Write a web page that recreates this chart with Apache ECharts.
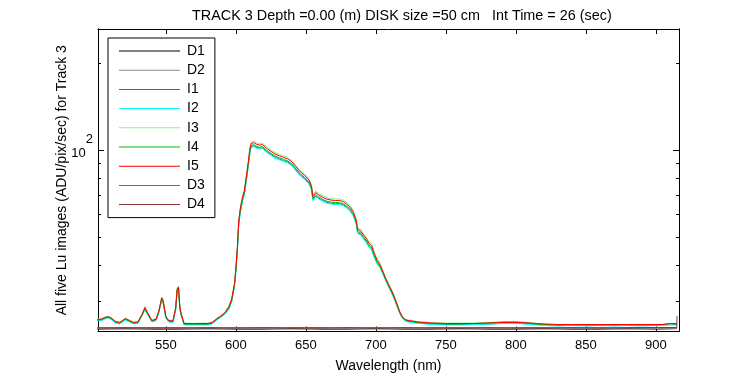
<!DOCTYPE html>
<html lang="en">
<head>
<meta charset="UTF-8">
<title>Track 3</title>
<script src="https://cdn.jsdelivr.net/npm/echarts@6/dist/echarts.min.js"></script>
<style>
  html, body { margin: 0; padding: 0; background: #fff; }
  #chart { width: 750px; height: 375px; }
</style>
</head>
<body>
<div id="chart"></div>
<script>
// wavelength grid (nm) for the five Lu images
var wave = [501, 504, 507, 509, 511, 514, 517, 519, 521, 524, 527, 530, 533, 535, 537, 540, 543, 545, 547, 548,
  550, 552, 555, 557, 558, 559, 560, 561, 563, 566, 570, 575, 580, 583, 586, 589, 592, 595, 597, 599,
  600, 601, 602, 603, 604, 605, 606, 607, 608, 609, 610, 611, 613, 615, 617, 619, 622, 625, 628, 631,
  634, 637, 640, 643, 646, 649, 652, 654, 655, 656, 657, 659, 662, 665, 668, 671, 674, 677, 680, 682,
  684, 686, 687, 689, 691, 693, 695, 697, 699, 701, 703, 705, 707, 709, 711, 713, 715, 717, 719, 721,
  723, 726, 730, 735, 740, 750, 760, 770, 780, 790, 795, 800, 805, 810, 815, 820, 830, 840, 850, 860,
  870, 880, 890, 900, 905, 910, 915];

var I1 = [25.7, 25.8, 26.2, 26.3, 26.0, 25.3, 25.1, 25.5, 25.9, 25.5, 25.1, 25.2, 26.8, 28.1, 27.0, 25.5, 25.8, 27.5, 30.3, 29.7,
  26.3, 25.5, 25.4, 28.1, 32.5, 33.1, 28.1, 26.8, 24.9, 24.9, 24.9, 24.9, 24.9, 25.1, 25.8, 26.4, 27.1, 28.3, 30.0, 34.0,
  38.4, 44.7, 55.1, 60.5, 64.4, 67.8, 70.2, 76.1, 82.4, 89.7, 98.5, 102.9, 103.4, 101.9, 101.4, 101.9, 98.8, 96.5, 94.4, 93.1,
  91.9, 90.9, 88.7, 85.2, 81.9, 79.8, 77.0, 73.1, 67.3, 66.6, 69.4, 68.3, 66.9, 65.9, 65.4, 65.2, 65.2, 64.5, 62.9, 61.4,
  59.3, 55.6, 51.7, 51.3, 49.6, 48.3, 46.4, 45.4, 42.5, 40.5, 39.4, 37.4, 35.5, 33.8, 32.3, 30.7, 29.0, 27.3, 26.2, 25.7,
  25.5, 25.4, 25.2, 25.1, 25.0, 24.9, 24.9, 24.9, 25.0, 25.1, 25.1, 25.1, 25.1, 25.0, 24.9, 24.8, 24.7, 24.7, 24.7, 24.7,
  24.7, 24.7, 24.7, 24.8, 24.8, 24.9, 24.9];
var I2 = [25.6, 25.7, 26.1, 26.2, 25.9, 25.2, 25.0, 25.4, 25.8, 25.4, 25.0, 25.1, 26.7, 27.9, 27.0, 25.4, 25.7, 27.5, 30.2, 29.6,
  26.2, 25.4, 25.3, 27.9, 32.3, 32.9, 27.9, 26.7, 24.8, 24.8, 24.8, 24.8, 24.8, 25.0, 25.7, 26.3, 27.0, 28.1, 29.9, 33.8,
  38.2, 44.3, 54.7, 60.0, 63.9, 67.3, 69.7, 75.5, 81.8, 89.1, 97.8, 102.1, 102.6, 101.2, 100.7, 101.2, 98.1, 95.8, 93.7, 92.4,
  91.3, 90.2, 88.1, 84.6, 81.3, 79.2, 76.5, 72.6, 66.8, 66.1, 68.9, 67.8, 66.4, 65.4, 65.0, 64.8, 64.8, 64.1, 62.4, 61.0,
  58.9, 55.2, 51.3, 50.9, 49.3, 47.9, 46.1, 45.1, 42.2, 40.2, 39.2, 37.2, 35.3, 33.6, 32.1, 30.6, 28.8, 27.2, 26.1, 25.6,
  25.4, 25.3, 25.1, 25.0, 24.9, 24.8, 24.8, 24.9, 25.0, 25.1, 25.1, 25.1, 25.0, 24.9, 24.8, 24.7, 24.6, 24.7, 24.6, 24.7,
  24.6, 24.7, 24.6, 24.7, 24.7, 24.8, 24.8];
var I3 = [26.0, 26.1, 26.5, 26.6, 26.3, 25.6, 25.4, 25.8, 26.2, 25.8, 25.4, 25.5, 27.1, 28.7, 27.4, 25.8, 26.1, 27.9, 31.0, 30.4,
  26.6, 25.8, 25.7, 28.6, 33.2, 33.8, 28.6, 27.1, 25.2, 25.2, 25.1, 25.2, 25.2, 25.4, 26.1, 26.7, 27.4, 28.9, 30.7, 34.7,
  39.2, 46.3, 57.2, 62.7, 66.8, 70.3, 72.9, 78.9, 85.5, 93.1, 102.2, 106.8, 107.3, 105.8, 105.2, 105.7, 102.5, 100.2, 98.0, 96.6,
  95.4, 94.3, 92.1, 88.4, 85.0, 82.8, 79.9, 75.9, 69.8, 69.1, 72.1, 70.8, 69.4, 68.4, 67.9, 67.7, 67.7, 67.0, 65.3, 63.8,
  61.5, 57.7, 53.6, 53.2, 51.5, 50.1, 48.2, 47.2, 44.1, 42.0, 40.5, 38.2, 36.2, 34.5, 33.0, 31.4, 29.6, 27.7, 26.5, 26.0,
  25.8, 25.7, 25.5, 25.4, 25.3, 25.2, 25.2, 25.2, 25.3, 25.4, 25.5, 25.5, 25.4, 25.3, 25.1, 25.0, 24.9, 24.8, 24.8, 24.9,
  24.9, 24.8, 24.8, 24.9, 24.9, 25.0, 25.1];
var I4 = [25.8, 25.9, 26.3, 26.4, 26.1, 25.4, 25.2, 25.6, 26.0, 25.6, 25.2, 25.3, 26.9, 28.3, 27.1, 25.6, 25.9, 27.6, 30.5, 29.9,
  26.4, 25.6, 25.5, 28.3, 32.7, 33.3, 28.3, 26.9, 25.0, 25.0, 25.0, 25.0, 25.0, 25.2, 25.9, 26.5, 27.2, 28.4, 30.2, 34.2,
  38.6, 45.1, 55.6, 61.0, 64.9, 68.4, 70.8, 76.8, 83.1, 90.5, 99.4, 103.8, 104.3, 102.8, 102.3, 102.8, 99.7, 97.4, 95.3, 94.0,
  92.8, 91.7, 89.5, 86.0, 82.7, 80.5, 77.7, 73.8, 67.9, 67.2, 70.1, 68.9, 67.5, 66.5, 66.0, 65.8, 65.8, 65.1, 63.5, 62.0,
  59.8, 56.1, 52.2, 51.8, 50.1, 48.7, 46.8, 45.9, 42.9, 40.8, 39.4, 37.6, 35.6, 34.0, 32.5, 30.9, 29.1, 27.4, 26.3, 25.8,
  25.6, 25.5, 25.3, 25.2, 25.1, 25.0, 25.0, 25.1, 25.2, 25.4, 25.4, 25.4, 25.3, 25.1, 25.0, 24.9, 24.8, 24.8, 24.8, 24.8,
  24.9, 24.8, 24.8, 24.8, 24.9, 25.1, 25.0];
var I5 = [25.9, 26.0, 26.4, 26.5, 26.2, 25.5, 25.3, 25.7, 26.1, 25.7, 25.3, 25.4, 27.0, 28.5, 27.3, 25.7, 26.0, 27.8, 30.8, 30.2,
  26.5, 25.7, 25.6, 28.5, 33.0, 33.6, 28.5, 27.0, 25.1, 25.1, 25.1, 25.1, 25.1, 25.3, 26.0, 26.6, 27.3, 28.7, 30.5, 34.5,
  39.0, 45.8, 56.5, 62.0, 66.0, 69.5, 72.0, 78.0, 84.5, 92.0, 101.0, 105.5, 106.0, 104.5, 104.0, 104.5, 101.3, 99.0, 96.8, 95.5,
  94.3, 93.2, 91.0, 87.4, 84.0, 81.8, 79.0, 75.0, 69.0, 68.3, 71.2, 70.0, 68.6, 67.6, 67.1, 66.9, 66.9, 66.2, 64.5, 63.0,
  60.8, 57.0, 53.0, 52.6, 50.9, 49.5, 47.6, 46.6, 43.6, 41.5, 40.0, 38.0, 36.0, 34.3, 32.8, 31.2, 29.4, 27.6, 26.4, 25.9,
  25.7, 25.6, 25.4, 25.3, 25.2, 25.1, 25.1, 25.1, 25.2, 25.3, 25.3, 25.3, 25.3, 25.2, 25.1, 25.0, 24.9, 24.9, 24.9, 24.9,
  24.9, 24.9, 24.9, 24.9, 24.9, 25.1, 25.1];

// dark frames
var dWave = [501, 520, 540, 560, 580, 600, 620, 640, 660, 680, 700, 720, 740, 760, 780, 800, 820, 840, 860, 880, 900, 914.9, 915.1];
var D1 = [24.0, 24.1, 24.0, 24.0, 24.1, 24.0, 24.0, 24.1, 24.0, 24.0, 24.1, 24.0, 24.0, 24.1, 24.0, 24.0, 24.1, 24.0, 24.0, 24.1, 24.0, 24.1, 24.1];
var D2 = [24.1, 24.0, 24.1, 24.1, 24.0, 24.1, 24.1, 24.0, 24.1, 24.1, 24.0, 24.1, 24.1, 24.0, 24.1, 24.1, 24.0, 24.1, 24.1, 24.0, 24.1, 24.1, 24.1];
var D3 = [24.3, 24.2, 24.3, 24.3, 24.2, 24.3, 24.2, 24.3, 24.3, 24.2, 24.3, 24.2, 24.3, 24.3, 24.2, 24.3, 24.3, 24.2, 24.3, 24.2, 24.3, 24.3, 24.3];
var D4 = [24.2, 24.3, 24.2, 24.2, 24.3, 24.2, 24.3, 24.2, 24.2, 24.3, 24.2, 24.3, 24.2, 24.2, 24.3, 24.2, 24.2, 24.3, 24.2, 24.3, 24.3, 24.3, 26.6];

var xTicks = [550, 600, 650, 700, 750, 800, 850, 900];
var yMajor = [100];
var yMinor = [30, 40, 50, 60, 70, 80, 90, 200];

var names = ['D1', 'D2', 'I1', 'I2', 'I3', 'I4', 'I5', 'D3', 'D4'];
var colors = ['#000000', '#8c8c8c', '#1f6fd6', '#00ffff', '#90ee90', '#00c000', '#ff0000', '#8c5a5a', '#8b3434'];

var FONT = 'Liberation Sans, Arial, Helvetica, sans-serif';
var YMIN = 23.55, YMAX = 262.3;

var chart = echarts.init(document.getElementById('chart'));

function pairs(xs, ys) {
  var out = [];
  for (var i = 0; i < xs.length; i++) out.push([xs[i], ys[i]]);
  return out;
}

var seriesData = {
  D1: pairs(dWave, D1), D2: pairs(dWave, D2),
  I1: pairs(wave, I1), I2: pairs(wave, I2), I3: pairs(wave, I3), I4: pairs(wave, I4), I5: pairs(wave, I5),
  D3: pairs(dWave, D3), D4: pairs(dWave, D4)
};

var series = names.map(function (n, i) {
  return {
    name: n,
    type: 'line',
    data: seriesData[n],
    showSymbol: false,
    symbol: 'none',
    lineStyle: { width: 1, color: colors[i] },
    itemStyle: { color: colors[i] },
    emphasis: { disabled: true },
    animation: false
  };
});

function logAxis(pos, ticks, len, label) {
  return {
    type: 'log',
    logBase: 10,
    min: YMIN,
    max: YMAX,
    position: pos,
    offset: 0,
    axisLine: { show: true, lineStyle: { color: '#000', width: 1 } },
    axisTick: { show: true, inside: true, length: len, customValues: ticks, lineStyle: { color: '#000' } },
    axisLabel: label ? {
      show: true,
      customValues: yMajor,
      margin: 5,
      padding: [0, 0, 8, 0],
      formatter: function (v) { return Math.abs(v - 100) < 1e-6 ? '{b|10}{s|2}' : ''; },
      rich: {
        b: { fontSize: 13, fontFamily: FONT, color: '#000', lineHeight: 28, verticalAlign: 'bottom' },
        s: { fontSize: 13, fontFamily: FONT, color: '#000', lineHeight: 15, verticalAlign: 'top', padding: [1, 0, 0, 0] }
      }
    } : { show: false },
    splitLine: { show: false },
    minorTick: { show: false }
  };
}

var yAxes = [logAxis('left', yMajor, 6, true), logAxis('left', yMinor, 3, false),
  logAxis('right', yMajor, 6, false), logAxis('right', yMinor, 3, false)];
yAxes[0].name = 'All five Lu images (ADU/pix/sec) for Track 3';
yAxes[0].nameLocation = 'middle';
yAxes[0].nameGap = 29;
yAxes[0].nameMoveOverlap = false;
yAxes[0].nameTextStyle = { fontSize: 14, fontFamily: FONT, color: '#000' };

chart.setOption({
  animation: false,
  backgroundColor: '#fff',
  title: {
    text: 'TRACK 3 Depth =0.00 (m) DISK size =50 cm   Int Time = 26 (sec)',
    left: 187,
    top: 4,
    textStyle: { fontSize: 14.4, fontWeight: 'normal', fontFamily: FONT, color: '#000' }
  },
  legend: {
    orient: 'vertical',
    left: 108,
    top: 38,
    padding: [6, 10, 6, 11],
    itemWidth: 61,
    itemHeight: 1,
    itemGap: 5.2,
    icon: 'rect',
    borderColor: '#000',
    borderWidth: 1,
    backgroundColor: '#fff',
    borderRadius: 0,
    textStyle: { fontSize: 14, fontFamily: FONT, color: '#000', lineHeight: 14, padding: [0, 0, 0, 2] },
    data: names
  },
  grid: { left: 98, right: 71, top: 29, bottom: 43.5, containLabel: false, outerBoundsMode: 'none' },
  xAxis: [{
    type: 'value',
    min: 501.5,
    max: 916.5,
    position: 'bottom',
    name: 'Wavelength (nm)',
    nameLocation: 'middle',
    nameGap: 27.5,
    nameMoveOverlap: false,
    nameTextStyle: { fontSize: 14, fontFamily: FONT, color: '#000' },
    axisLine: { show: true, onZero: false, lineStyle: { color: '#000' } },
    axisTick: { show: true, inside: true, length: 5, customValues: xTicks, lineStyle: { color: '#000' } },
    axisLabel: { show: true, customValues: xTicks, margin: 7, fontSize: 13, fontFamily: FONT, color: '#000' },
    splitLine: { show: false }
  }, {
    type: 'value',
    min: 501.5,
    max: 916.5,
    position: 'top',
    axisLine: { show: true, onZero: false, lineStyle: { color: '#000' } },
    axisTick: { show: true, inside: true, length: 5, customValues: xTicks, lineStyle: { color: '#000' } },
    axisLabel: { show: false },
    splitLine: { show: false }
  }],
  yAxis: yAxes,
  series: series
});
</script>
</body>
</html>
